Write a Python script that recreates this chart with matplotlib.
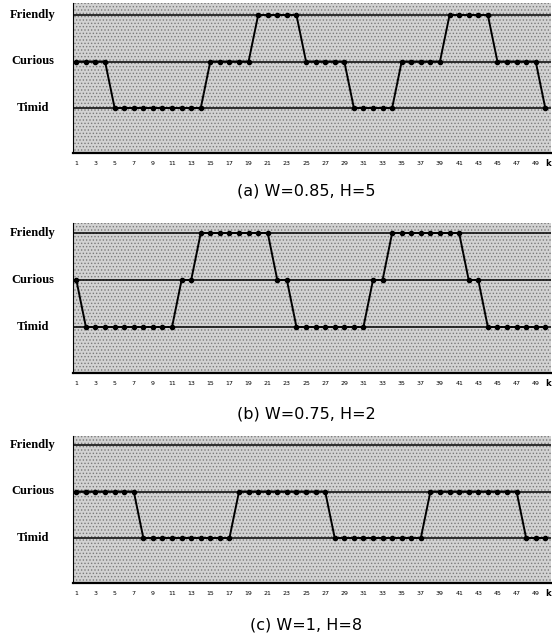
import numpy as np
import matplotlib
matplotlib.use('Agg')
import matplotlib.pyplot as plt

# state codes: 0 = Timid, 1 = Curious, 2 = Friendly
level_names = ['Timid', 'Curious', 'Friendly']
k = np.arange(1, 51)
xtick_vals = list(range(1, 50, 2))

state_a = [1, 1, 1, 1,
           0, 0, 0, 0, 0, 0, 0, 0, 0, 0,
           1, 1, 1, 1, 1,
           2, 2, 2, 2, 2,
           1, 1, 1, 1, 1,
           0, 0, 0, 0, 0,
           1, 1, 1, 1, 1,
           2, 2, 2, 2, 2,
           1, 1, 1, 1, 1,
           0]
state_b = [1,
           0, 0, 0, 0, 0, 0, 0, 0, 0, 0,
           1, 1,
           2, 2, 2, 2, 2, 2, 2, 2,
           1, 1,
           0, 0, 0, 0, 0, 0, 0, 0,
           1, 1,
           2, 2, 2, 2, 2, 2, 2, 2,
           1, 1,
           0, 0, 0, 0, 0, 0, 0]
state_c = [1, 1, 1, 1, 1, 1, 1,
           0, 0, 0, 0, 0, 0, 0, 0, 0, 0,
           1, 1, 1, 1, 1, 1, 1, 1, 1, 1,
           0, 0, 0, 0, 0, 0, 0, 0, 0, 0,
           1, 1, 1, 1, 1, 1, 1, 1, 1, 1,
           0, 0, 0]

captions = ['(a) W=0.85, H=5', '(b) W=0.75, H=2', '(c) W=1, H=8']
series = [state_a, state_b, state_c]

W, H = 552, 641
fig = plt.figure(figsize=(W / 100, H / 100), dpi=100)
plt.rcParams['hatch.color'] = '#7a7a7a'
plt.rcParams['hatch.linewidth'] = 0.6

# pixel layout: (top, bottom, friendly_y, timid_y, caption_y)
layout = [(3, 153, 15, 108, 191),
          (223, 373, 233, 327, 414),
          (436, 583, 445, 538, 625)]
left_px, right_px = 73, 551

for states, (top, bot, fy, ty, cy) in zip(series, layout):
    ax = fig.add_axes([left_px / W, 1 - bot / H,
                       (right_px - left_px) / W, (bot - top) / H])
    unit = (ty - fy) / 2.0
    ax.set_ylim(-(bot - ty) / unit, 2 + (fy - top) / unit)
    ax.set_xlim(0.65, 50.6)
    ax.set_facecolor('#d2d2d2')
    ax.add_patch(plt.Rectangle((0, 0), 1, 1, transform=ax.transAxes,
                               facecolor='none', hatch='.....', lw=0,
                               zorder=0))

    for lv in range(3):
        ax.axhline(lv, color='black', lw=1.1, zorder=2)
    ax.plot(k, states, color='black', lw=1.4, marker='o', ms=3,
            zorder=3)

    ax.set_yticks([])
    ax.set_xticks(xtick_vals)
    ax.set_xticklabels([str(v) for v in xtick_vals], fontsize=4.5)
    ax.tick_params(axis='x', length=0, pad=6)
    ax.text(1.0, -0.04, 'k', transform=ax.transAxes, fontsize=6,
            fontweight='bold', ha='right', va='top')

    for s in ['top', 'right']:
        ax.spines[s].set_visible(False)
    ax.spines['left'].set_linewidth(0.8)
    ax.spines['bottom'].set_linewidth(1.6)

    for lv, name in enumerate(level_names):
        ax.text(33 / W, 1 - [ty, (fy + ty) / 2, fy][lv] / H, name,
                transform=fig.transFigure, ha='center', va='center',
                fontsize=9, fontweight='bold', family='Liberation Serif')

for cap, l in zip(captions, layout):
    fig.text(306 / W, 1 - l[4] / H, cap, ha='center', va='center',
             fontsize=11.5)

fig.savefig('out.png', dpi=100)
